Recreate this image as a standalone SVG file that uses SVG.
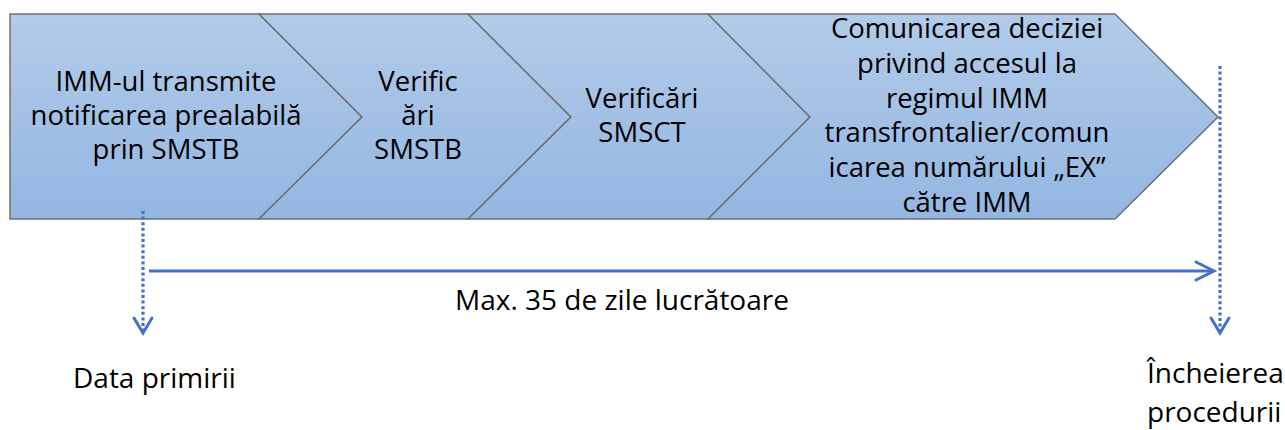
<svg xmlns="http://www.w3.org/2000/svg" width="1285" height="430" viewBox="0 0 1285 430">
  <defs>
    <linearGradient id="stepFill" gradientUnits="userSpaceOnUse" x1="0" y1="14" x2="0" y2="219">
      <stop offset="0" stop-color="#b2cbe9"/>
      <stop offset="1" stop-color="#93b6e2"/>
    </linearGradient>
  </defs>
  <style>
    .step { fill: url(#stepFill); stroke: #707070; stroke-width: 1.5; stroke-linejoin: miter; }
    .lbl { font-family: "Open Sans", "Liberation Sans", Arial, sans-serif; font-size: 27.5px; fill: #000; text-anchor: middle; }
    .note { font-family: "Open Sans", "Liberation Sans", Arial, sans-serif; font-size: 28px; fill: #000; }
    .dots { fill: none; stroke: #4472c4; stroke-width: 3.2; stroke-dasharray: 3 2.6; }
    .solid { fill: none; stroke: #4472c4; stroke-width: 3; }
    .head { fill: none; stroke: #4472c4; stroke-width: 3; stroke-linecap: round; stroke-linejoin: miter; }
  </style>

  <g id="step1">
    <polygon class="step" points="10,14 259,14 362,117 259,219 10,219"/>
    <text class="lbl" x="166" y="91">IMM-ul transmite</text>
    <text class="lbl" x="166" y="125">notificarea prealabilă</text>
    <text class="lbl" x="166" y="159">prin SMSTB</text>
  </g>

  <g id="step2">
    <polygon class="step" points="259,14 468,14 571,117 468,219 259,219 362,117"/>
    <text class="lbl" x="418" y="91">Verific</text>
    <text class="lbl" x="418" y="125">ări</text>
    <text class="lbl" x="418" y="159">SMSTB</text>
  </g>

  <g id="step3">
    <polygon class="step" points="468,14 708,14 810,117 708,219 468,219 571,117"/>
    <text class="lbl" x="642" y="108">Verificări</text>
    <text class="lbl" x="642" y="142">SMSCT</text>
  </g>

  <g id="step4">
    <polygon class="step" points="708,14 1115,14 1218,117 1115,219 708,219 810,117"/>
    <text class="lbl" x="967" y="38">Comunicarea deciziei</text>
    <text class="lbl" x="967" y="73">privind accesul la</text>
    <text class="lbl" x="967" y="108">regimul IMM</text>
    <text class="lbl" x="967" y="142">transfrontalier/comun</text>
    <text class="lbl" x="967" y="177">icarea numărului „EX”</text>
    <text class="lbl" x="967" y="212">către IMM</text>
  </g>

  <g id="connectors">
    <!-- start marker: receipt date -->
    <line class="dots" x1="143" y1="211" x2="143" y2="332"/>
    <polyline class="head" points="134,318 143,333 152,318"/>
    <!-- end marker: close of procedure -->
    <line class="dots" x1="1220" y1="66" x2="1220" y2="332"/>
    <polyline class="head" points="1211,318 1220,333 1229,318"/>
    <!-- overall duration -->
    <line class="solid" x1="149" y1="271" x2="1213" y2="271"/>
    <polyline class="head" points="1196,262 1214,271 1196,280"/>
  </g>

  <g id="labels">
    <text class="note" x="622" y="310" text-anchor="middle">Max. 35 de zile lucrătoare</text>
    <text class="note" x="73" y="388">Data primirii</text>
    <text class="note" x="1147" y="383">Încheierea</text>
    <text class="note" x="1147" y="422">procedurii</text>
  </g>
</svg>
